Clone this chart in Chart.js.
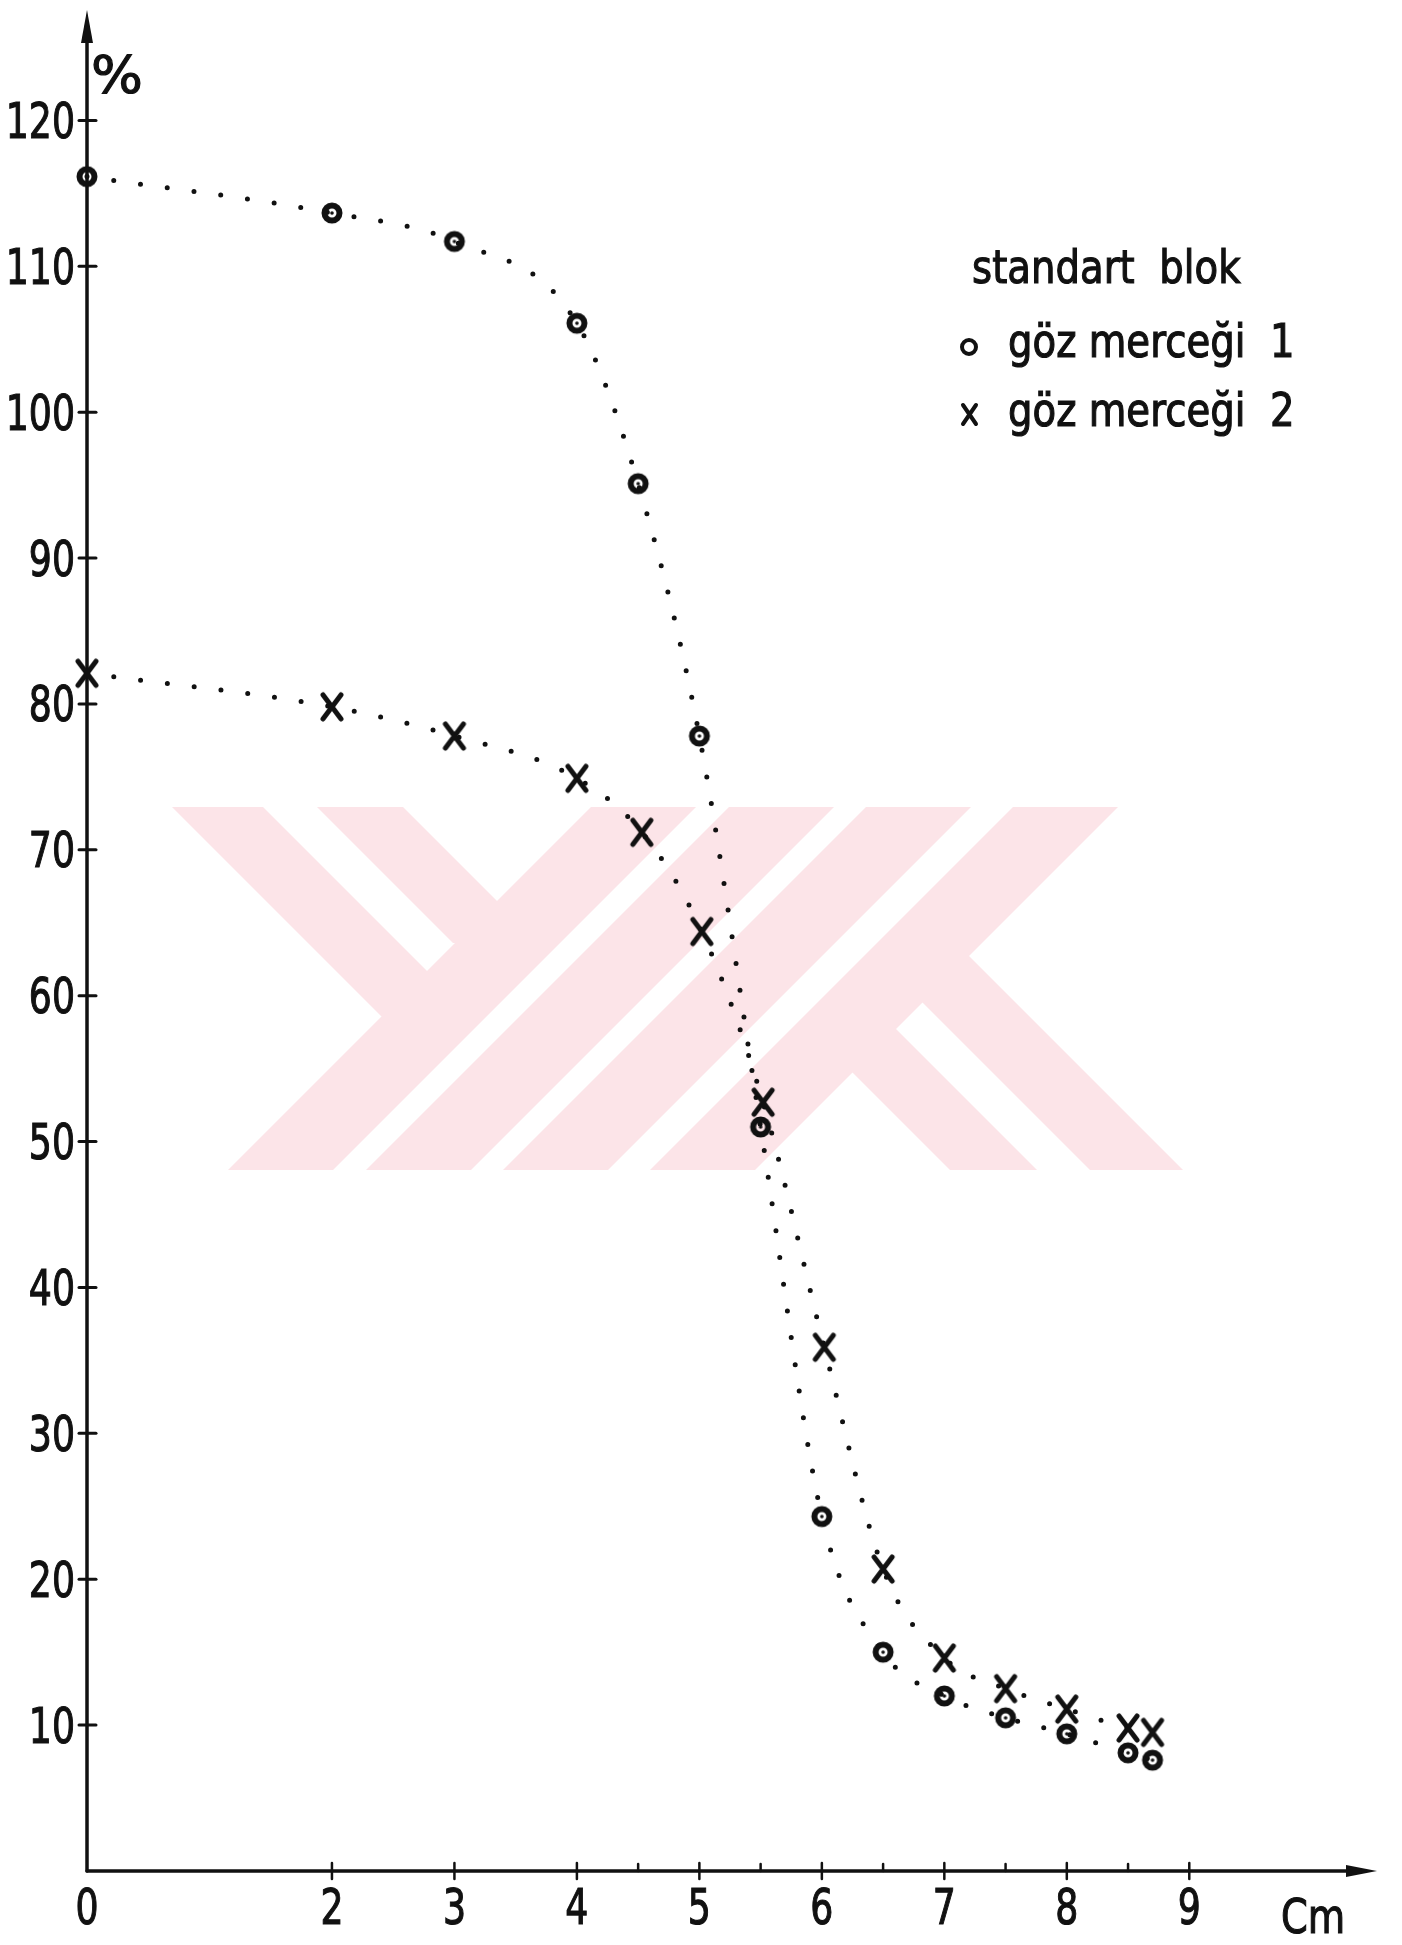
<!DOCTYPE html>
<html>
<head>
<meta charset="utf-8">
<script src="https://cdn.jsdelivr.net/npm/chart.js@4.4.1/dist/chart.umd.min.js"></script>
<style>
  html, body { margin: 0; padding: 0; background: #fff; }
  #wrap { width: 1402px; height: 1945px; position: relative; }
</style>
</head>
<body>
<div id="wrap"><canvas id="chart"></canvas></div>
<script>
// values (x in cm, y in %)
const cm1 = [0, 2, 3, 4, 4.5, 5, 5.5, 6, 6.5, 7, 7.5, 8, 8.5, 8.7];
const mercek1 = [116.15, 113.65, 111.7, 106.1, 95.1, 77.8, 51.0, 24.3, 15.0, 12.0, 10.5, 9.4, 8.1, 7.6];
const cm2 = [0, 2, 3, 4, 4.53, 5.02, 5.52, 6.02, 6.5, 7, 7.5, 8, 8.5, 8.7];
const mercek2 = [82.1, 79.8, 77.8, 74.9, 71.2, 64.4, 52.7, 35.9, 20.7, 14.6, 12.5, 11.1, 9.8, 9.5];

const xTicks = [0, 2, 3, 4, 5, 6, 7, 8, 9];
const xHalfTicks = [4.5, 5.5, 6.5, 7.5, 8.5];
const yTicks = [10, 20, 30, 40, 50, 60, 70, 80, 90, 100, 110, 120];

const legendTitle = 'standart  blok';
const seriesLabels = ['göz merceği  1', 'göz merceği  2'];
const xTitle = 'Cm';
const yTitle = '%';

const INK = '#111';

function ringMarker() {
    const c = document.createElement('canvas');
    c.width = 28; c.height = 28;
    const g = c.getContext('2d');
    g.strokeStyle = INK;
    g.lineWidth = 6;
    g.beginPath(); g.arc(14, 14, 7.5, 0, Math.PI * 2); g.stroke();
    g.fillStyle = INK;
    g.beginPath(); g.arc(14, 14, 1.8, 0, Math.PI * 2); g.fill();
    return c;
}

function crossMarker() {
    const c = document.createElement('canvas');
    c.width = 30; c.height = 34;
    const g = c.getContext('2d');
    g.strokeStyle = INK;
    g.lineWidth = 5;
    g.lineCap = 'round';
    g.beginPath();
    g.moveTo(6, 5); g.lineTo(24, 29);
    g.moveTo(24, 5); g.lineTo(6, 29);
    g.stroke();
    return c;
}

// condensed "technical lettering" look: squeeze the glyphs horizontally
function txt(ctx, s, x, y, size, sx, align) {
    ctx.save();
    ctx.translate(x, y);
    ctx.scale(sx, 1);
    ctx.font = size + 'px "DejaVu Sans"';
    ctx.textAlign = align;
    ctx.textBaseline = 'alphabetic';
    ctx.fillStyle = INK;
    ctx.strokeStyle = INK;
    ctx.lineWidth = 1.2;
    ctx.fillText(s, 0, 0);
    ctx.strokeText(s, 0, 0);
    ctx.restore();
}

// faint pink archive stamp behind the plot
const watermark = {
    id: 'watermark',
    beforeDraw(chart) {
        const ctx = chart.ctx;
        const top = 807, bottom = 1170, h = bottom - top;
        ctx.save();
        ctx.fillStyle = '#fce4e8';
        // bands running down to the left, full height
        [228, 366, 503, 650].forEach(bl => {
            ctx.beginPath();
            ctx.moveTo(bl + h, top); ctx.lineTo(bl + h + 105, top);
            ctx.lineTo(bl + 105, bottom); ctx.lineTo(bl, bottom);
            ctx.closePath(); ctx.fill();
        });
        // bands running down to the right (x at top, width, top, bottom)
        [[172, 91, 807, 1016.5], [317, 86, 807, 943], [808.5, 87, 1028.5, 1170], [875.5, 93, 955.5, 1170]].forEach(b => {
            const [x0, w, y0, y1] = b;
            const d = y1 - y0;
            ctx.beginPath();
            ctx.moveTo(x0, y0); ctx.lineTo(x0 + w, y0);
            ctx.lineTo(x0 + w + d, y1); ctx.lineTo(x0 + d, y1);
            ctx.closePath(); ctx.fill();
        });
        ctx.restore();
    }
};

const axes = {
    id: 'axes',
    beforeDatasetsDraw(chart) {
        const ctx = chart.ctx;
        const xs = chart.scales.x, ys = chart.scales.y;
        const x0 = xs.getPixelForValue(0);
        const y0 = ys.getPixelForValue(0);
        const top = chart.chartArea.top;
        const right = chart.chartArea.right;

        ctx.save();
        ctx.strokeStyle = INK;
        ctx.fillStyle = INK;
        ctx.lineCap = 'round';

        // y axis with arrow
        ctx.lineWidth = 3.5;
        ctx.beginPath(); ctx.moveTo(x0, y0); ctx.lineTo(x0, top + 20); ctx.stroke();
        ctx.beginPath();
        ctx.moveTo(x0, top - 1); ctx.lineTo(x0 - 6, top + 32); ctx.lineTo(x0 + 6, top + 32);
        ctx.closePath(); ctx.fill();

        // x axis with arrow
        ctx.lineWidth = 3.5;
        ctx.beginPath(); ctx.moveTo(x0, y0); ctx.lineTo(right - 20, y0); ctx.stroke();
        ctx.beginPath();
        ctx.moveTo(right + 4, y0); ctx.lineTo(right - 27, y0 - 6); ctx.lineTo(right - 27, y0 + 6);
        ctx.closePath(); ctx.fill();

        // y ticks + labels
        ctx.lineWidth = 3;
        yTicks.forEach(v => {
            const y = ys.getPixelForValue(v);
            ctx.beginPath(); ctx.moveTo(x0 - 8, y); ctx.lineTo(x0 + 9, y); ctx.stroke();
            txt(ctx, String(v), x0 - 12, y + 17.5, 49, 0.74, 'right');
        });

        // x ticks + labels
        ctx.lineWidth = 2.5;
        xTicks.forEach(v => {
            const x = xs.getPixelForValue(v);
            if (v !== 0) {
                ctx.beginPath(); ctx.moveTo(x, y0 - 8); ctx.lineTo(x, y0 + 8); ctx.stroke();
            }
            txt(ctx, String(v), x, y0 + 53, 49, 0.74, 'center');
        });
        xHalfTicks.forEach(v => {
            const x = xs.getPixelForValue(v);
            ctx.beginPath(); ctx.moveTo(x, y0 - 7); ctx.lineTo(x, y0); ctx.stroke();
        });

        // axis titles
        txt(ctx, yTitle, x0 + 4, top + 82, 52, 1.05, 'left');
        txt(ctx, xTitle, right - 92, y0 + 62, 48, 0.8, 'left');
        ctx.restore();
    }
};

const legendBox = {
    id: 'legendBox',
    afterDatasetsDraw(chart) {
        const ctx = chart.ctx;
        const labels = chart.data.datasets.map(d => d.label);
        ctx.save();
        txt(ctx, legendTitle, 972, 283, 46, 0.84, 'left');

        ctx.strokeStyle = INK;
        ctx.lineWidth = 4;
        ctx.lineCap = 'round';
        // small plain circle
        ctx.beginPath(); ctx.arc(969, 347, 7, 0, Math.PI * 2); ctx.stroke();
        txt(ctx, labels[0], 1008, 357, 46, 0.84, 'left');
        // small x
        ctx.beginPath();
        ctx.moveTo(963, 405); ctx.lineTo(976, 424);
        ctx.moveTo(976, 405); ctx.lineTo(963, 424);
        ctx.stroke();
        txt(ctx, labels[1], 1008, 426, 46, 0.84, 'left');
        ctx.restore();
    }
};

const ctx = document.getElementById('chart').getContext('2d');

new Chart(ctx, {
    type: 'line',
    data: {
        datasets: [
            {
                label: seriesLabels[0],
                data: cm1.map((x, i) => ({ x: x, y: mercek1[i] })),
                pointStyle: ringMarker(),
                pointRadius: 6,
                borderColor: INK,
                borderWidth: 5,
                borderDash: [0, 27],
                borderCapStyle: 'round',
                cubicInterpolationMode: 'monotone',
                fill: false,
                clip: false
            },
            {
                label: seriesLabels[1],
                data: cm2.map((x, i) => ({ x: x, y: mercek2[i] })),
                pointStyle: crossMarker(),
                pointRadius: 6,
                borderColor: INK,
                borderWidth: 5,
                borderDash: [0, 27],
                borderCapStyle: 'round',
                cubicInterpolationMode: 'monotone',
                fill: false,
                clip: false
            }
        ]
    },
    options: {
        responsive: true,
        maintainAspectRatio: false,
        animation: false,
        events: [],
        layout: {
            padding: { left: 87, right: 29, top: 6, bottom: 74 }
        },
        scales: {
            x: { type: 'linear', min: 0, max: 10.5, display: false },
            y: { type: 'linear', min: 0, max: 127.5, display: false }
        },
        plugins: {
            legend: { display: false },
            tooltip: { enabled: false }
        }
    },
    plugins: [watermark, axes, legendBox]
});
</script>
</body>
</html>
